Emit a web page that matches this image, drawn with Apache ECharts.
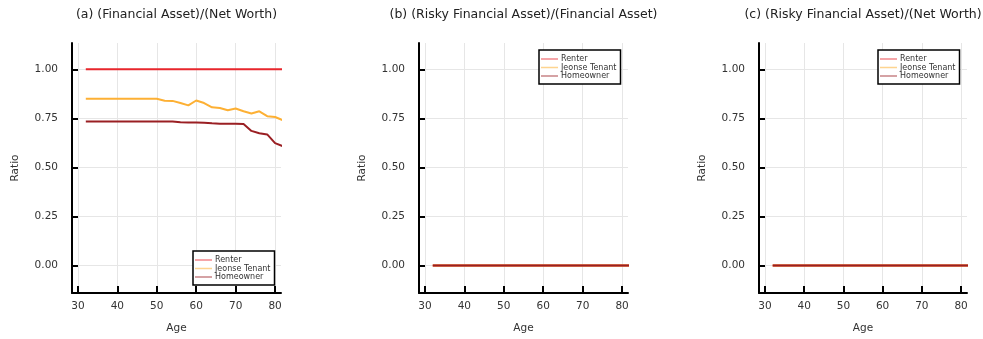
<!DOCTYPE html>
<html>
<head>
<meta charset="utf-8">
<script src="https://cdn.jsdelivr.net/npm/echarts@6/dist/echarts.min.js"></script>
<style>
  html, body { margin: 0; padding: 0; background: #ffffff; }
  #chart { width: 983px; height: 339px; }
</style>
</head>
<body>
<div id="chart"></div>
<script>
// Household portfolio ratios by age and housing tenure
const ages = [32, 34, 36, 38, 40, 42, 44, 46, 48, 50, 52, 54, 56, 58, 60, 62, 64, 66, 68, 70, 72, 74, 76, 78, 80, 82];

// (a) financial asset / net worth
const finNwRenter = [1, 1, 1, 1, 1, 1, 1, 1, 1, 1, 1, 1, 1, 1, 1, 1, 1, 1, 1, 1, 1, 1, 1, 1, 1, 1];
const finNwJeonse = [0.85, 0.85, 0.85, 0.85, 0.85, 0.85, 0.85, 0.85, 0.85, 0.85, 0.84, 0.839, 0.828, 0.816, 0.841, 0.828, 0.806, 0.803, 0.791, 0.80, 0.786, 0.775, 0.786, 0.761, 0.757, 0.74];
const finNwOwner  = [0.734, 0.734, 0.734, 0.734, 0.734, 0.734, 0.734, 0.734, 0.734, 0.734, 0.734, 0.734, 0.730, 0.729, 0.729, 0.728, 0.725, 0.723, 0.723, 0.723, 0.721, 0.686, 0.674, 0.668, 0.624, 0.608];

// (b) risky financial asset / financial asset
const riskyFinRenter = [0, 0, 0, 0, 0, 0, 0, 0, 0, 0, 0, 0, 0, 0, 0, 0, 0, 0, 0, 0, 0, 0, 0, 0, 0, 0];
const riskyFinJeonse = [0, 0, 0, 0, 0, 0, 0, 0, 0, 0, 0, 0, 0, 0, 0, 0, 0, 0, 0, 0, 0, 0, 0, 0, 0, 0];
const riskyFinOwner  = [0, 0, 0, 0, 0, 0, 0, 0, 0, 0, 0, 0, 0, 0, 0, 0, 0, 0, 0, 0, 0, 0, 0, 0, 0, 0];

// (c) risky financial asset / net worth
const riskyNwRenter = [0, 0, 0, 0, 0, 0, 0, 0, 0, 0, 0, 0, 0, 0, 0, 0, 0, 0, 0, 0, 0, 0, 0, 0, 0, 0];
const riskyNwJeonse = [0, 0, 0, 0, 0, 0, 0, 0, 0, 0, 0, 0, 0, 0, 0, 0, 0, 0, 0, 0, 0, 0, 0, 0, 0, 0];
const riskyNwOwner  = [0, 0, 0, 0, 0, 0, 0, 0, 0, 0, 0, 0, 0, 0, 0, 0, 0, 0, 0, 0, 0, 0, 0, 0, 0, 0];

const groupNames = ['Renter', 'Jeonse Tenant', 'Homeowner'];
const groupColors = ['#e8262c', '#fdb034', '#9a1f23'];
const panelTitles = [
  '(a) (Financial Asset)/(Net Worth)',
  '(b) (Risky Financial Asset)/(Financial Asset)',
  '(c) (Risky Financial Asset)/(Net Worth)'
];
const panelData = [
  [finNwRenter, finNwJeonse, finNwOwner],
  [riskyFinRenter, riskyFinJeonse, riskyFinOwner],
  [riskyNwRenter, riskyNwJeonse, riskyNwOwner]
];
const xTicks = [30, 40, 50, 60, 70, 80];
const yTicks = [0, 0.25, 0.5, 0.75, 1];

const FONT = 'DejaVu Sans';
const panels = [
  { left: 72, width: 209 },
  { left: 419, width: 209 },
  { left: 759, width: 208 }
];
const legendPos = [
  { left: 193, top: 251 },
  { left: 539, top: 50 },
  { left: 878, top: 50 }
];

const grids = [], xAxes = [], yAxes = [], titles = [], legends = [], series = [];
panels.forEach((p, i) => {
  grids.push({ left: p.left, top: 43, width: p.width, height: 252, containLabel: false });
  titles.push({
    text: panelTitles[i],
    left: p.left + p.width / 2,
    top: 8,
    padding: 0,
    textAlign: 'center',
    textStyle: { fontFamily: FONT, fontSize: 12.5, fontWeight: 'normal', color: '#222' }
  });
  xAxes.push({
    type: 'value', gridIndex: i, min: 28.5, max: 81.5,
    name: 'Age', nameLocation: 'middle', nameGap: 30,
    nameTextStyle: { fontFamily: FONT, fontSize: 10.5, color: '#333' },
    axisLine: { show: true, onZero: false, lineStyle: { color: '#000', width: 2 } },
    axisTick: { show: true, inside: true, length: 7, lineStyle: { color: '#000', width: 2 }, customValues: xTicks },
    axisLabel: { fontFamily: FONT, fontSize: 10.5, color: '#333', margin: 8, customValues: xTicks },
    splitLine: { show: true, lineStyle: { color: '#e6e6e6', width: 1 } }
  });
  yAxes.push({
    type: 'value', gridIndex: i, min: -0.14, max: 1.134,
    name: 'Ratio', nameLocation: 'middle', nameGap: 51,
    nameTextStyle: { fontFamily: FONT, fontSize: 10.5, color: '#333' },
    axisLine: { show: true, onZero: false, lineStyle: { color: '#000', width: 2 } },
    axisTick: { show: true, inside: true, length: 6, lineStyle: { color: '#000', width: 2 }, customValues: yTicks },
    axisLabel: {
      fontFamily: FONT, fontSize: 10.5, color: '#333', margin: 14, customValues: yTicks,
      formatter: v => v.toFixed(2)
    },
    splitLine: { show: true, lineStyle: { color: '#e6e6e6', width: 1 } }
  });
  legends.push({
    left: legendPos[i].left, top: legendPos[i].top,
    orient: 'vertical', itemGap: 0.5, itemWidth: 17, itemHeight: 1.5,
    padding: [5, 4, 4, 2],
    icon: 'rect', selectedMode: false,
    backgroundColor: '#fff', borderColor: '#000', borderWidth: 1.5, borderRadius: 0,
    textStyle: { fontFamily: FONT, fontSize: 8, color: '#333', padding: [0, 0, 0, -2] },
    data: groupNames.map((n, k) => ({ name: n, itemStyle: { color: groupColors[k], opacity: 0.55 } }))
  });
  groupNames.forEach((name, k) => {
    series.push({
      type: 'line', name: name, xAxisIndex: i, yAxisIndex: i,
      data: ages.map((a, j) => [a, panelData[i][k][j]]),
      showSymbol: false, symbol: 'none', clip: true,
      lineStyle: { color: groupColors[k], width: 2 },
      itemStyle: { color: groupColors[k] },
      z: 3 + k
    });
  });
});

const chart = echarts.init(document.getElementById('chart'), null, { renderer: 'canvas' });
chart.setOption({
  animation: false,
  backgroundColor: '#ffffff',
  title: titles,
  legend: legends,
  grid: grids,
  xAxis: xAxes,
  yAxis: yAxes,
  series: series
});
</script>
</body>
</html>
